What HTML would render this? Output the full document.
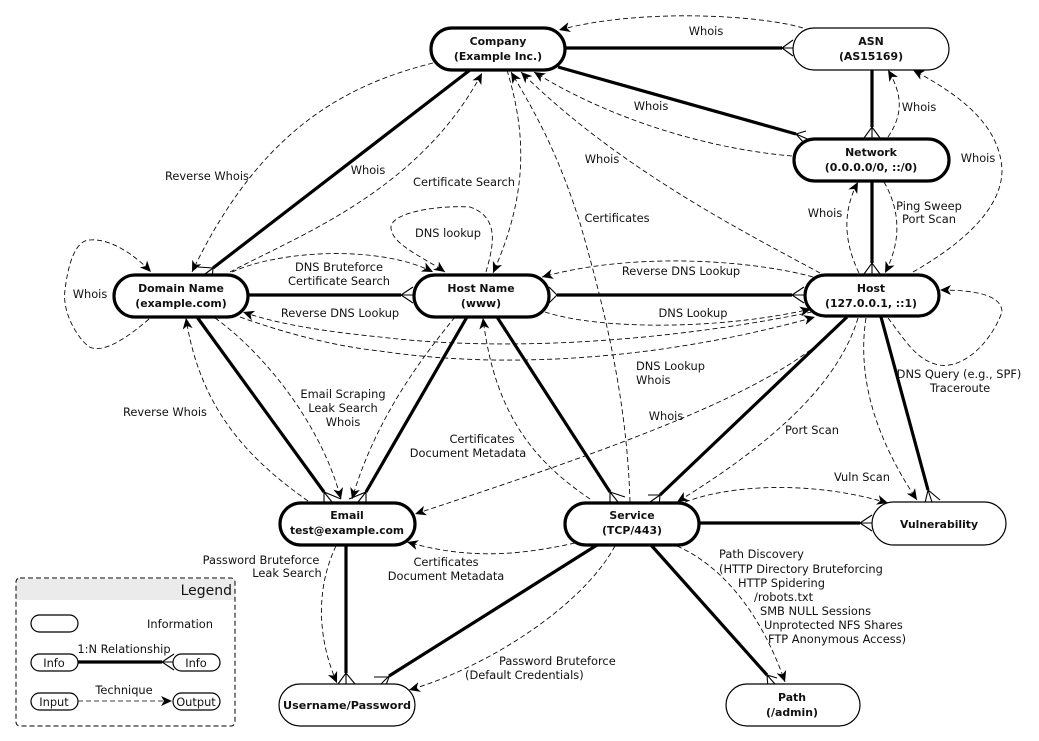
<!DOCTYPE html>
<html><head><meta charset="utf-8"><style>
html,body{margin:0;padding:0;background:#fff}
svg{display:block}
text{font-family:"DejaVu Sans","Liberation Sans",sans-serif;font-size:11.4px;fill:#111;text-anchor:middle}
.b{font-weight:bold;font-size:10.9px}
.l{text-anchor:start}
.n{fill:#fff;stroke:#000;stroke-width:3.2}
.t{fill:#fff;stroke:#000;stroke-width:1.2}
.k{fill:none;stroke:#000;stroke-width:3.2}
.f{fill:none;stroke:#000;stroke-width:1.1}
.d{fill:none;stroke:#000;stroke-width:.85;stroke-dasharray:5 3}
.a{marker-end:url(#ar)}
</style></head><body>
<svg width="1039" height="741" viewBox="0 0 1039 741" xmlns="http://www.w3.org/2000/svg">
<defs><marker id="ar" markerUnits="userSpaceOnUse" markerWidth="14" markerHeight="12" refX="11" refY="5" orient="auto"><path d="M0,0 L11,5 L0,10 L3,5 Z" fill="#000"/></marker></defs>

<!-- thick relationships -->
<path class="k" d="M566,48H782M558,67L796,134M872,70V127M872,181V263M248,295H401M557,295H792M470,70L213,268M197,317L324,492M467,317L366,492M497,317L610,492M847,317L660,495M881,317L928,490M699,523H860M346,545V673M597,545L389,676M651,545L767,675"/>
<!-- crow feet -->
<path class="f" d="M793,40L782,48L793,56M782,48H793M806,131L796,134L804,143M796,134L812,141M864,138L872,127L880,138M872,127V138M864,274L872,263L880,274M872,263V274M413,287L401,295L413,303M401,295H413M549,287L557,295L549,303M804,287L792,295L804,303M792,295H804M198,267L213,268L212,280M213,268L205,274M324,507V492L341,499M324,492L332,502M366,507V492L349,499M366,492L358,502M610,507V492L625,497M610,492L618,502M648,495H660L659,507M660,495L650,502M925,503L928,490L940,500M928,490L932,502M872,515L860,523L872,531M860,523H872M338,684L346,673L355,684M346,673V684M374,677H389L384,690M389,676L381,684M768,688L767,675L777,678M767,675L775,684"/>

<!-- dashed techniques -->
<g class="d">
<path class="a" d="M803,28C760,15 640,8 559,30"/>
<path class="a" d="M792,156C720,150 620,125 534,72"/>
<path class="a" d="M820,273C750,235 620,170 521,72"/>
<path class="a" d="M630,502C627,400 605,310 580,223C560,160 540,120 511,72"/>
<path class="a" d="M507,70C525,130 530,190 493,273"/>
<path class="a" d="M230,272C300,235 420,190 482,73"/>
<path class="a" d="M433,63C345,85 260,130 192,272"/>
<path class="a" d="M149,319C125,340 100,355 88,346C75,335 62,310 65,290C68,265 75,240 90,240C110,238 135,255 151,272"/>
<path class="a" d="M486,272C492,250 502,218 470,207C440,205 390,212 391,228C392,245 425,258 445,272"/>
<path class="a" d="M232,272C280,250 380,245 433,272"/>
<path class="a" d="M812,312C700,335 530,355 380,337C330,332 280,325 243,312"/>
<path class="a" d="M240,317C290,335 340,347 380,351C520,372 680,355 815,317"/>
<path class="a" d="M545,312C600,330 720,330 811,309"/>
<path class="a" d="M813,277C760,262 640,250 542,277"/>
<path class="a" d="M884,182C900,210 902,240 885,273"/>
<path class="a" d="M859,273C843,240 843,210 858,182"/>
<path class="a" d="M888,137C903,115 903,95 888,70"/>
<path class="a" d="M913,272C960,245 1002,210 1002,170C1000,125 960,95 913,70"/>
<path class="a" d="M888,318C905,340 915,358 935,364C960,372 990,345 1002,312C1002,295 975,290 940,290"/>
<path class="a" d="M866,318C858,370 870,430 917,500"/>
<path class="a" d="M858,318C838,385 770,445 677,502"/>
<path class="a" d="M846,317C790,385 640,440 415,514"/>
<path class="a" d="M685,502C730,485 810,480 888,503"/>
<path class="a" d="M590,499C540,465 495,420 483,318"/>
<path class="a" d="M455,317C420,360 375,420 352,499"/>
<path class="a" d="M215,318C260,350 320,420 341,499"/>
<path class="a" d="M308,501C250,460 200,410 186,318"/>
<path class="a" d="M336,546C315,590 318,640 337,683"/>
<path class="a" d="M615,546C580,610 480,670 409,690"/>
<path class="a" d="M575,543C520,555 470,560 407,542"/>
<path class="a" d="M677,546C720,565 760,610 785,682"/>
</g>

<!-- nodes -->
<rect class="n" x="431" y="28" width="134" height="42" rx="21"/>
<rect class="t" x="793" y="28" width="156" height="42" rx="21"/>
<rect class="n" x="794" y="139" width="155" height="42" rx="21"/>
<rect class="n" x="805" y="275" width="134" height="41" rx="20.5"/>
<rect class="n" x="114" y="275" width="134" height="42" rx="21"/>
<rect class="n" x="414" y="275" width="135" height="42" rx="21"/>
<rect class="n" x="280" y="503" width="135" height="42" rx="21"/>
<rect class="n" x="565" y="503" width="134" height="42" rx="21"/>
<rect class="t" x="872" y="502" width="134" height="43" rx="21.5"/>
<rect class="t" x="279" y="684" width="136" height="42" rx="21"/>
<rect class="t" x="726" y="684" width="134" height="42" rx="21"/>

<text class="b" x="498" y="45">Company</text><text class="b" x="498" y="60">(Example Inc.)</text>
<text class="b" x="871" y="45">ASN</text><text class="b" x="871" y="60">(AS15169)</text>
<text class="b" x="871" y="156">Network</text><text class="b" x="871" y="171">(0.0.0.0/0, ::/0)</text>
<text class="b" x="871" y="292">Host</text><text class="b" x="871" y="307">(127.0.0.1, ::1)</text>
<text class="b" x="181" y="292">Domain Name</text><text class="b" x="181" y="307">(example.com)</text>
<text class="b" x="481" y="292">Host Name</text><text class="b" x="481" y="307">(www)</text>
<text class="b" x="347" y="519">Email</text><text class="b" x="347" y="534" textLength="114" lengthAdjust="spacingAndGlyphs">test@example.com</text>
<text class="b" x="632" y="519">Service</text><text class="b" x="632" y="534">(TCP/443)</text>
<text class="b" x="939" y="528" textLength="78" lengthAdjust="spacingAndGlyphs">Vulnerability</text>
<text class="b" x="347" y="709" textLength="128" lengthAdjust="spacingAndGlyphs">Username/Password</text>
<text class="b" x="792" y="701">Path</text><text class="b" x="792" y="716">(/admin)</text>

<!-- labels -->
<text x="706" y="35">Whois</text>
<text x="651" y="110">Whois</text>
<text x="919" y="111">Whois</text>
<text x="602" y="163">Whois</text>
<text x="978" y="162">Whois</text>
<text x="368" y="174">Whois</text>
<text x="207" y="180">Reverse Whois</text>
<text x="464" y="186">Certificate Search</text>
<text x="617" y="222">Certificates</text>
<text x="448" y="237">DNS lookup</text>
<text x="825" y="217">Whois</text>
<text x="929" y="210">Ping Sweep</text>
<text x="929" y="223">Port Scan</text>
<text x="90" y="298">Whois</text>
<text x="339" y="271">DNS Bruteforce</text>
<text x="339" y="285">Certificate Search</text>
<text x="681" y="275">Reverse DNS Lookup</text>
<text x="340" y="317">Reverse DNS Lookup</text>
<text x="693" y="317">DNS Lookup</text>
<text class="l" x="636" y="370">DNS Lookup</text>
<text class="l" x="636" y="384">Whois</text>
<text x="959" y="378">DNS Query (e.g., SPF)</text>
<text x="960" y="392">Traceroute</text>
<text x="165" y="416">Reverse Whois</text>
<text x="343" y="398">Email Scraping</text>
<text x="343" y="412">Leak Search</text>
<text x="343" y="426">Whois</text>
<text x="666" y="420">Whois</text>
<text x="812" y="434">Port Scan</text>
<text x="482" y="443">Certificates</text>
<text x="468" y="457">Document Metadata</text>
<text x="862" y="481">Vuln Scan</text>
<text x="261" y="564">Password Bruteforce</text>
<text x="287" y="577">Leak Search</text>
<text x="446" y="566">Certificates</text>
<text x="446" y="580">Document Metadata</text>
<text class="l" x="719" y="558">Path Discovery</text>
<text class="l" x="719" y="573">(HTTP Directory Bruteforcing</text>
<text class="l" x="738" y="587">HTTP Spidering</text>
<text class="l" x="754" y="601">/robots.txt</text>
<text class="l" x="760" y="615">SMB NULL Sessions</text>
<text class="l" x="764" y="629">Unprotected NFS Shares</text>
<text class="l" x="768" y="643">FTP Anonymous Access)</text>
<text class="l" x="499" y="665">Password Bruteforce</text>
<text class="l" x="465" y="679">(Default Credentials)</text>

<!-- legend -->
<rect x="16" y="579" width="219" height="21" fill="#ebebeb"/>
<rect x="16" y="578" width="219" height="148" rx="4" fill="none" stroke="#000" stroke-dasharray="5 3"/>
<text x="232" y="595" style="text-anchor:end;font-size:14px">Legend</text>
<rect class="t" x="31" y="615" width="47" height="17" rx="8.5"/>
<text x="180" y="628">Information</text>
<path class="k" d="M78,662H162"/>
<path class="f" d="M174,654L162,662L174,670M162,662H174"/>
<rect class="t" x="31" y="654" width="47" height="17" rx="8.5"/>
<rect class="t" x="173" y="654" width="47" height="17" rx="8.5"/>
<text x="54" y="667">Info</text><text x="196" y="667">Info</text>
<text x="124" y="653">1:N Relationship</text>
<path class="d a" d="M78,701H172"/>
<rect class="t" x="31" y="693" width="47" height="17" rx="8.5"/>
<rect class="t" x="173" y="693" width="47" height="17" rx="8.5"/>
<text x="54" y="706">Input</text><text x="196" y="706">Output</text>
<text x="124" y="694">Technique</text>
</svg>
</body></html>
